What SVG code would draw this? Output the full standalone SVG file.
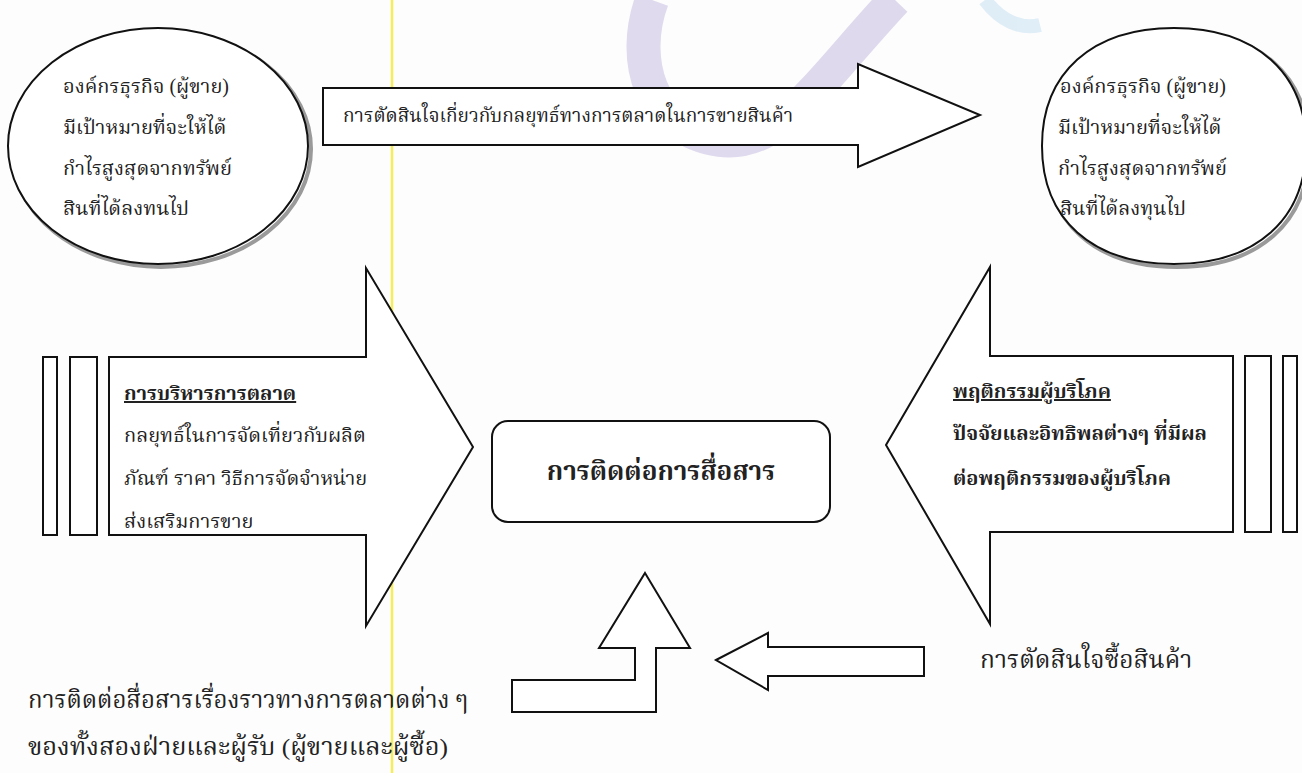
<svg xmlns="http://www.w3.org/2000/svg" width="1302" height="773" viewBox="0 0 1302 773">
<style>
.t{font-family:"Liberation Serif","Noto Serif Thai","Noto Sans Thai","DejaVu Serif",serif;fill:#222;}
.s{fill:#fff;stroke:#111;stroke-width:2;stroke-linejoin:miter;}
.b{font-weight:bold;}
.u{text-decoration:underline;}
.sh{fill:none;stroke:#9a9a9a;stroke-width:4;}
.el{fill:#fff;stroke:#111;stroke-width:2;}
</style>
<rect width="1302" height="773" fill="#fdfdfd"/>
<g id="watermark" fill="none" opacity="0.75">
<path d="M652,0 C630,60 650,130 720,140 C780,148 820,80 895,0" stroke="#d6cde8" stroke-width="34"/>
<path d="M985,0 C1000,20 1020,30 1040,25" stroke="#d6e8f5" stroke-width="14"/>
</g>
<line x1="392" y1="0" x2="392" y2="773" stroke="#f5ee5a" stroke-width="2.5"/>
<g id="connectors">
<polygon class="s" points="323,88 858,88 858,64 980,115 858,167 858,145 323,145"/>
<polygon class="s" points="109,357 366,357 366,268 473,447 366,626 366,535 109,535"/>
<polygon class="s" points="1233,356 990,356 990,267 886,445 990,624 990,532 1233,532"/>
<polygon class="s" points="645,573 690,648 656,648 656,712 512,712 512,680 635,680 635,648 599,648"/>
<polygon class="s" points="716,660 768,633 768,647 924,647 924,676 768,676 768,690"/>
</g>
<g id="label-top">
<text class="t" x="343" y="122" font-size="19">การตัดสินใจเกี่ยวกับกลยุทธ์ทางการตลาดในการขายสินค้า</text>
</g>
<g id="bars-left">
<rect class="s" x="43" y="357" width="14" height="178"/>
<rect class="s" x="70" y="357" width="27" height="178"/>
</g>
<g id="bars-right">
<rect class="s" x="1245" y="356" width="26" height="176"/>
<rect class="s" x="1283" y="356" width="14" height="176"/>
</g>
<g id="node-seller-left">
<ellipse class="sh" cx="161" cy="149" rx="150" ry="118"/>
<ellipse class="el" cx="158" cy="146" rx="150" ry="118"/>
<text class="t" font-size="20"><tspan x="63" y="93">องค์กรธุรกิจ (ผู้ขาย)</tspan><tspan x="63" y="134">มีเป้าหมายที่จะให้ได้</tspan><tspan x="63" y="175">กำไรสูงสุดจากทรัพย์</tspan><tspan x="63" y="215">สินที่ได้ลงทนไป</tspan></text>
</g>
<g id="node-seller-right">
<path class="sh" d="M1045,149 C1045,75.8 1095.2,31 1177,31 C1258.8,31 1309,75.8 1309,149 C1309,222.2 1258.8,267 1177,267 C1095.2,267 1045,222.2 1045,149 Z"/>
<path class="el" d="M1042,146 C1042,72.8 1092.2,28 1174,28 C1255.8,28 1306,72.8 1306,146 C1306,219.2 1255.8,264 1174,264 C1092.2,264 1042,219.2 1042,146 Z"/>
<text class="t" font-size="20"><tspan x="1060" y="93">องค์กรธุรกิจ (ผู้ขาย)</tspan><tspan x="1058" y="134">มีเป้าหมายที่จะให้ได้</tspan><tspan x="1058" y="175">กำไรสูงสุดจากทรัพย์</tspan><tspan x="1060" y="215">สินที่ได้ลงทุนไป</tspan></text>
</g>
<g id="node-marketing">
<text class="t" font-size="20"><tspan class="b u" x="124" y="400">การบริหารการตลาด</tspan><tspan x="124" y="442">กลยุทธ์ในการจัดเที่ยวกับผลิต</tspan><tspan x="124" y="485">ภัณฑ์ ราคา วิธีการจัดจำหน่าย</tspan><tspan x="124" y="528">ส่งเสริมการขาย</tspan></text>
</g>
<g id="node-consumer">
<text class="t b u" x="953" y="398" font-size="20">พฤติกรรมผู้บริโภค</text>
<text class="t b" x="953" y="440" font-size="20" textLength="254" lengthAdjust="spacingAndGlyphs">ปัจจัยและอิทธิพลต่างๆ ที่มีผล</text>
<text class="t b" x="953" y="485" font-size="20">ต่อพฤติกรรมของผู้บริโภค</text>
</g>
<g id="node-communication">
<rect class="s" x="492" y="421" width="338" height="101" rx="16"/>
<text class="t b" x="661" y="480" font-size="26" text-anchor="middle">การติดต่อการสื่อสาร</text>
</g>
<g id="label-bottom-left">
<text class="t" x="28" y="708" font-size="24">การติดต่อสื่อสารเรื่องราวทางการตลาดต่าง ๆ</text>
<text class="t" x="28" y="755" font-size="24" textLength="420" lengthAdjust="spacingAndGlyphs">ของทั้งสองฝ่ายและผู้รับ (ผู้ขายและผู้ซื้อ)</text>
</g>
<g id="label-bottom-right">
<text class="t" x="980" y="668" font-size="24.5">การตัดสินใจซื้อสินค้า</text>
</g>
</svg>
